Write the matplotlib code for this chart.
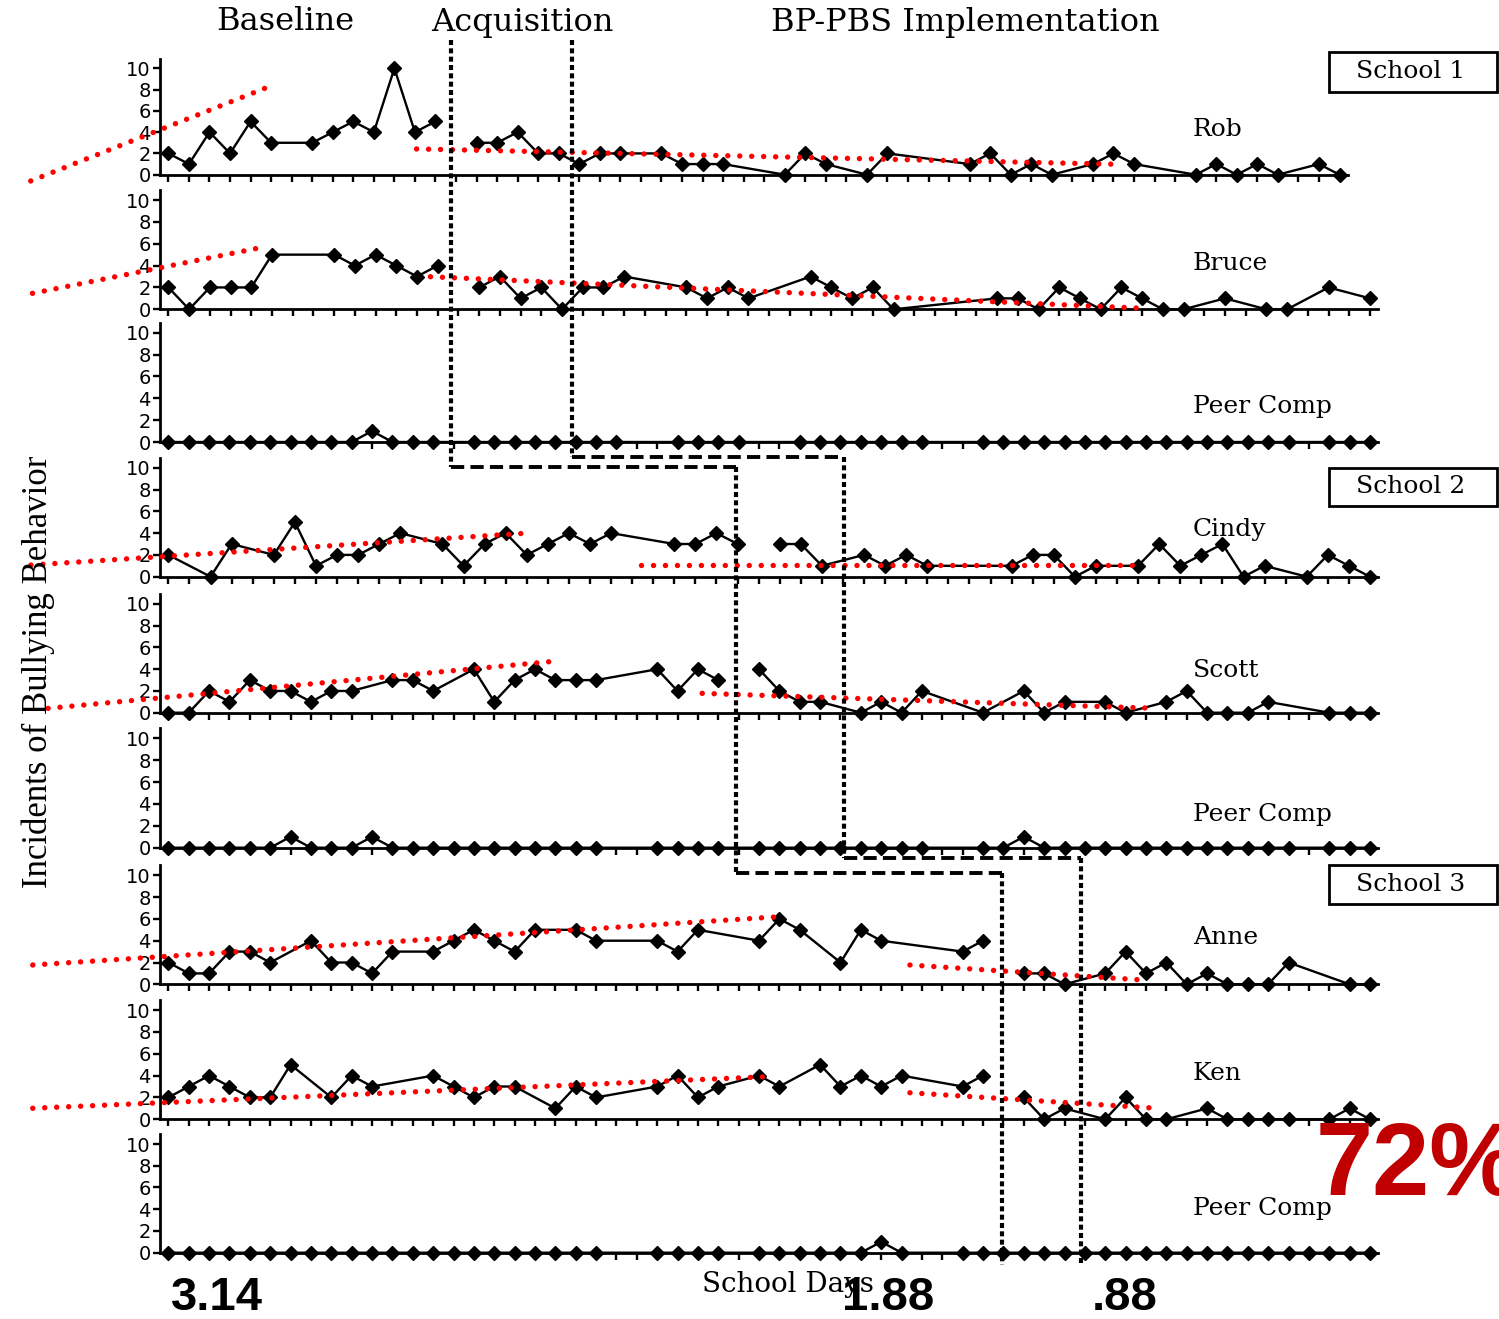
import matplotlib
matplotlib.use("Agg")
import matplotlib.pyplot as plt
from matplotlib.lines import Line2D
from matplotlib.patches import Rectangle

W, H = 1499, 1319

# ---------------- data ----------------
panel_labels = ["Rob", "Bruce", "Peer Comp", "Cindy", "Scott", "Peer Comp", "Anne", "Ken", "Peer Comp"]
panel_sessions = [58, 59, 60, 58, 60, 60, 60, 60, 60]

rob_base_days = [1, 2, 3, 4, 5, 6, 8, 9, 10, 11, 12, 13, 14]
rob_base_vals = [2, 1, 4, 2, 5, 3, 3, 4, 5, 4, 10, 4, 5]
rob_trt_days = [16, 17, 18, 19, 20, 21, 22, 23, 25, 26, 27, 28, 31, 32, 33, 35, 36, 40, 41, 42,
                43, 44, 46, 47, 48, 51, 52, 53, 54, 55, 57, 58]
rob_trt_vals = [3, 3, 4, 2, 2, 1, 2, 2, 2, 1, 1, 1, 0, 2, 1, 0, 2, 1, 2, 0,
                1, 0, 1, 2, 1, 0, 1, 0, 1, 0, 1, 0]

bruce_base_days = [1, 2, 3, 4, 5, 6, 9, 10, 11, 12, 13, 14]
bruce_base_vals = [2, 0, 2, 2, 2, 5, 5, 4, 5, 4, 3, 4]
bruce_trt_days = [16, 17, 18, 19, 20, 21, 22, 23, 26, 27, 28, 29, 32, 33, 34, 35, 36, 41, 42, 43,
                  44, 45, 46, 47, 48, 49, 50, 52, 54, 55, 57, 59]
bruce_trt_vals = [2, 3, 1, 2, 0, 2, 2, 3, 2, 1, 2, 1, 3, 2, 1, 2, 0, 1, 1, 0,
                  2, 1, 0, 2, 1, 0, 0, 1, 0, 0, 2, 1]

peer1_days = [1, 2, 3, 4, 5, 6, 7, 8, 9, 10, 11, 12, 13, 14, 16, 17, 18, 19, 20, 21, 22, 23,
              26, 27, 28, 29, 32, 33, 34, 35, 36, 37, 38, 41, 42, 43, 44, 45, 46, 47, 48, 49,
              50, 51, 52, 53, 54, 55, 56, 58, 59, 60]
peer1_vals = [0, 0, 0, 0, 0, 0, 0, 0, 0, 0, 1, 0, 0, 0, 0, 0, 0, 0, 0, 0, 0, 0,
              0, 0, 0, 0, 0, 0, 0, 0, 0, 0, 0, 0, 0, 0, 0, 0, 0, 0, 0, 0,
              0, 0, 0, 0, 0, 0, 0, 0, 0, 0]

cindy_base_days = [1, 3, 4, 6, 7, 8, 9, 10, 11, 12, 14, 15, 16, 17, 18, 19, 20, 21, 22, 25, 26, 27, 28]
cindy_base_vals = [2, 0, 3, 2, 5, 1, 2, 2, 3, 4, 3, 1, 3, 4, 2, 3, 4, 3, 4, 3, 3, 4, 3]
cindy_trt_days = [30, 31, 32, 34, 35, 36, 37, 41, 42, 43, 44, 45, 47, 48, 49, 50, 51, 52, 53, 55,
                  56, 57, 58]
cindy_trt_vals = [3, 3, 1, 2, 1, 2, 1, 1, 2, 2, 0, 1, 1, 3, 1, 2, 3, 0, 1, 0,
                  2, 1, 0]

scott_base_days = [1, 2, 3, 4, 5, 6, 7, 8, 9, 10, 12, 13, 14, 16, 17, 18, 19, 20, 21, 22, 25, 26, 27, 28]
scott_base_vals = [0, 0, 2, 1, 3, 2, 2, 1, 2, 2, 3, 3, 2, 4, 1, 3, 4, 3, 3, 3, 4, 2, 4, 3]
scott_trt_days = [30, 31, 32, 33, 35, 36, 37, 38, 41, 43, 44, 45, 47, 48, 50, 51, 52, 53, 54, 55,
                  58, 59, 60]
scott_trt_vals = [4, 2, 1, 1, 0, 1, 0, 2, 0, 2, 0, 1, 1, 0, 1, 2, 0, 0, 0, 1,
                  0, 0, 0]

peer2_days = [1, 2, 3, 4, 5, 6, 7, 8, 9, 10, 11, 12, 13, 14, 15, 16, 17, 18, 19, 20, 21, 22,
              25, 26, 27, 28, 30, 31, 32, 33, 34, 35, 36, 37, 38, 41, 42, 43, 44, 45, 46, 47,
              48, 49, 50, 51, 52, 53, 54, 55, 56, 58, 59, 60]
peer2_vals = [0, 0, 0, 0, 0, 0, 1, 0, 0, 0, 1, 0, 0, 0, 0, 0, 0, 0, 0, 0, 0, 0,
              0, 0, 0, 0, 0, 0, 0, 0, 0, 0, 0, 0, 0, 0, 0, 1, 0, 0, 0, 0,
              0, 0, 0, 0, 0, 0, 0, 0, 0, 0, 0, 0]

anne_base_days = [1, 2, 3, 4, 5, 6, 8, 9, 10, 11, 12, 14, 15, 16, 17, 18, 19, 21, 22, 25, 26, 27,
                  30, 31, 32, 34, 35, 36, 40, 41]
anne_base_vals = [2, 1, 1, 3, 3, 2, 4, 2, 2, 1, 3, 3, 4, 5, 4, 3, 5, 5, 4, 4, 3, 5,
                  4, 6, 5, 2, 5, 4, 3, 4]
anne_trt_days = [43, 44, 45, 47, 48, 49, 50, 51, 52, 53, 54, 55, 56, 59, 60]
anne_trt_vals = [1, 1, 0, 1, 3, 1, 2, 0, 1, 0, 0, 0, 2, 0, 0]

ken_base_days = [1, 2, 3, 4, 5, 6, 7, 9, 10, 11, 14, 15, 16, 17, 18, 20, 21, 22, 25, 26, 27, 28,
                 30, 31, 33, 34, 35, 36, 37, 40, 41]
ken_base_vals = [2, 3, 4, 3, 2, 2, 5, 2, 4, 3, 4, 3, 2, 3, 3, 1, 3, 2, 3, 4, 2, 3,
                 4, 3, 5, 3, 4, 3, 4, 3, 4]
ken_trt_days = [43, 44, 45, 47, 48, 49, 50, 52, 53, 54, 55, 56, 58, 59, 60]
ken_trt_vals = [2, 0, 1, 0, 2, 0, 0, 1, 0, 0, 0, 0, 0, 1, 0]

peer3_days = [1, 2, 3, 4, 5, 6, 7, 8, 9, 10, 11, 12, 13, 14, 15, 16, 17, 18, 19, 20, 21, 22,
              25, 26, 27, 28, 30, 31, 32, 33, 34, 35, 36, 37, 40, 41, 42, 43, 44, 45, 46, 47,
              48, 49, 50, 51, 52, 53, 54, 55, 56, 57, 58, 59, 60]
peer3_vals = [0, 0, 0, 0, 0, 0, 0, 0, 0, 0, 0, 0, 0, 0, 0, 0, 0, 0, 0, 0, 0, 0,
              0, 0, 0, 0, 0, 0, 0, 0, 0, 0, 1, 0, 0, 0, 0, 0, 0, 0, 0, 0,
              0, 0, 0, 0, 0, 0, 0, 0, 0, 0, 0, 0, 0]

# red trend lines: (start session, start value, end session, end value)
rob_trends = [(-5.70, -0.59, 6.10, 8.43), (13.08, 2.42, 47.2, 0.98)]
bruce_trends = [(-5.56, 1.46, 5.53, 5.67), (13.65, 2.98, 48.05, 0.09)]
cindy_trends = [(-5.52, 1.07, 17.89, 3.98), (23.41, 1.07, 46.83, 1.07)]
scott_trends = [(-4.91, 0.40, 19.71, 4.69), (27.21, 1.78, 49.52, 0.40)]
anne_trends = [(-5.66, 1.77, 30.99, 6.20), (37.41, 1.77, 48.89, 0.39)]
ken_trends = [(-5.66, 1.01, 30.42, 3.90), (37.41, 2.43, 49.52, 1.01)]

phase_titles = ["Baseline", "Acquisition", "BP-PBS Implementation"]
school_names = ["School 1", "School 2", "School 3"]
# phase changes (session, on the 60-day scale) per school
phase_changes = [(14.9, 20.8), (28.85, 34.15), (41.95, 45.8)]
effect_numbers = ["3.14", "1.88", ".88"]
effect_percent = "72%"

panels = [
    ([(rob_base_days, rob_base_vals), (rob_trt_days, rob_trt_vals)], rob_trends),
    ([(bruce_base_days, bruce_base_vals), (bruce_trt_days, bruce_trt_vals)], bruce_trends),
    ([(peer1_days, peer1_vals)], []),
    ([(cindy_base_days, cindy_base_vals), (cindy_trt_days, cindy_trt_vals)], cindy_trends),
    ([(scott_base_days, scott_base_vals), (scott_trt_days, scott_trt_vals)], scott_trends),
    ([(peer2_days, peer2_vals)], []),
    ([(anne_base_days, anne_base_vals), (anne_trt_days, anne_trt_vals)], anne_trends),
    ([(ken_base_days, ken_base_vals), (ken_trt_days, ken_trt_vals)], ken_trends),
    ([(peer3_days, peer3_vals)], []),
]

# ---------------- layout (pixels) ----------------
zero_px = [174.7, 309.3, 442.0, 576.7, 712.7, 847.7, 984.3, 1119.3, 1252.7]
ten_px = [68.3, 200.0, 332.7, 467.7, 604.0, 738.3, 875.3, 1010.0, 1144.0]
last_tick_px = [1339.5, 1370, 1370, 1370, 1370, 1370, 1370, 1370, 1370]
label_y = [129, 263, 406, 529, 671, 815, 938, 1073, 1209]
first_tick_px = 168.4
spine_px = 160.3
YTOP = 10.9

fig = plt.figure(figsize=(W / 100, H / 100), dpi=100)
fig.patch.set_facecolor("white")


def fx(p):
    return p / W


def fy(p):
    return 1 - p / H


SERIF = ["DejaVu Serif"]

for i, (segs, trends) in enumerate(panels):
    n = panel_sessions[i]
    d = (last_tick_px[i] - first_tick_px) / (n - 1)
    right_px = last_tick_px[i] + 8
    upu = (zero_px[i] - ten_px[i]) / 10.0
    top_px = zero_px[i] - YTOP * upu
    ax = fig.add_axes([fx(spine_px), fy(zero_px[i]), (right_px - spine_px) / W,
                       (zero_px[i] - top_px) / H])
    ax.set_xlim(1 - (first_tick_px - spine_px) / d, 1 + (right_px - first_tick_px) / d)
    ax.set_ylim(0, YTOP)
    ax.patch.set_alpha(0)
    for s in ["top", "right"]:
        ax.spines[s].set_visible(False)
    ax.spines["left"].set_linewidth(2.0)
    ax.spines["bottom"].set_linewidth(2.0)
    ax.set_xticks(range(1, n + 1))
    ax.set_xticklabels([])
    ax.set_yticks([0, 2, 4, 6, 8, 10])
    ax.set_yticklabels(["0", "2", "4", "6", "8", "10"], fontfamily="DejaVu Sans")
    ax.tick_params(axis="x", direction="out", length=5, width=1.7)
    ax.tick_params(axis="y", direction="out", length=5, width=1.7, labelsize=14, pad=2)
    for days, vals in segs:
        ax.plot(days, vals, color="black", lw=1.7, marker="D", ms=6.8,
                mfc="black", mec="black", clip_on=False, zorder=3)
    for (x0, y0, x1, y1) in trends:
        ax.plot([x0, x1], [y0, y1], color="#ff0000", lw=3.9, ls=(0, (0.01, 2.2)),
                dash_capstyle="round", clip_on=False, zorder=4)
    fig.text(fx(1193), fy(label_y[i]), panel_labels[i], ha="left", va="center",
             fontsize=18, family=SERIF)

# phase titles
for t, xc in zip(phase_titles, [285, 522, 965]):
    fig.text(fx(xc), fy(22), t, ha="center", va="center", fontsize=23, family=SERIF)

# school boxes
for name, (y_top, y_bot) in zip(school_names, [(52, 92), (468, 506), (865, 904)]):
    fig.add_artist(Rectangle((fx(1329), fy(y_bot)), (1497 - 1329) / W, (y_bot - y_top) / H,
                             transform=fig.transFigure, fill=False, lw=2, ec="black"))
    fig.text(fx(1411), fy((y_top + y_bot) / 2), name, ha="center", va="center",
             fontsize=18, family=SERIF)


# phase change lines
def sess_px(s):
    return first_tick_px + (s - 1) * (1370 - first_tick_px) / 59


def vline(x, ya, yb):
    fig.add_artist(Line2D([fx(x), fx(x)], [fy(ya), fy(yb)], transform=fig.transFigure,
                          color="black", lw=3.0, ls=(0, (1.2, 0.8)), zorder=5))


def hline(xa, xb, y):
    fig.add_artist(Line2D([fx(xa), fx(xb)], [fy(y), fy(y)], transform=fig.transFigure,
                          color="black", lw=2.8, ls=(0, (3.4, 1.6)), zorder=5))


breaks_line1 = [40, 467, 873, 1265]
breaks_line2 = [40, 457, 858, 1265]
for k, brk in enumerate([breaks_line1, breaks_line2]):
    xs = [sess_px(pc[k]) for pc in phase_changes]
    for j in range(3):
        vline(xs[j], brk[j], brk[j + 1])
        if j < 2:
            hline(xs[j], xs[j + 1], brk[j + 1])

# axis titles
fig.text(fx(38), fy(672), "Incidents of Bullying Behavior", rotation=90, ha="center",
         va="center", fontsize=25, family=["Liberation Serif"])
fig.text(fx(788), fy(1284), "School Days", ha="center", va="center", fontsize=20, family=SERIF)

# effect numbers
for t, xc in zip(effect_numbers, [217, 888, 1125]):
    fig.text(fx(xc), fy(1298), t, ha="center", va="center", fontsize=34, fontweight="bold",
             family=["Liberation Sans"])
fig.text(fx(1316), fy(1168), effect_percent, ha="left", va="center", fontsize=74,
         fontweight="bold", color="#c00000", family=["Liberation Sans"])

fig.savefig("out.png", dpi=100)
